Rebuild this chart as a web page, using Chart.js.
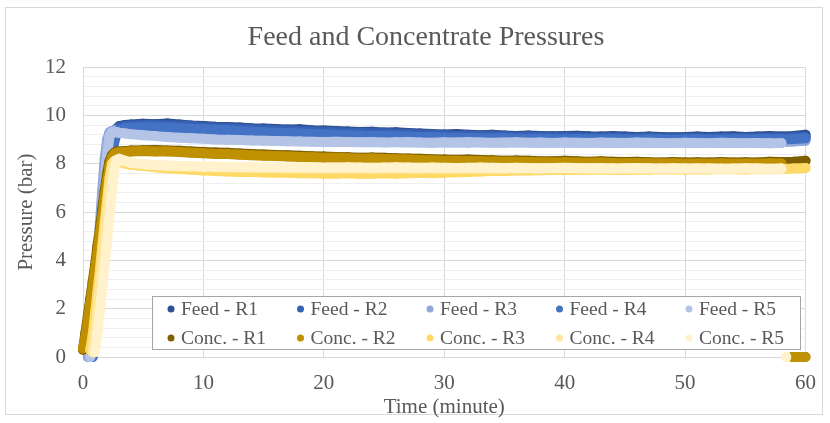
<!DOCTYPE html>
<html>
<head>
<meta charset="utf-8">
<title>Feed and Concentrate Pressures</title>
<script src="https://cdn.jsdelivr.net/npm/chart.js@4.4.1/dist/chart.umd.min.js"></script>
<style>
  html, body { margin: 0; padding: 0; background: #fff; }
  canvas { display: block; }
</style>
</head>
<body>
<canvas id="pressureChart" width="830" height="423"></canvas>
<script>
// sample times (minute): fine steps through the start-up ramp, then one per minute
const minutes = [0, 0.2, 0.4, 0.6, 0.8, 1, 1.2, 1.4, 1.6, 1.8, 2, 2.2, 2.4, 2.6, 2.8, 3, 3.5,
  4, 5, 6, 7, 8, 9, 10, 11, 12, 13, 14, 15, 16, 17, 18, 19, 20, 21, 22, 23, 24, 25, 26, 27, 28, 29, 30,
  31, 32, 33, 34, 35, 36, 37, 38, 39, 40, 41, 42, 43, 44, 45, 46, 47, 48, 49, 50, 51, 52, 53, 54, 55, 56, 57, 58, 59, 60];

// pressures (bar), one value per entry of `minutes`
const feedR1 = [null, null, null, 0, 0.5, 1.6, 2.8, 4.0, 5.2, 6.4, 7.5, 8.4, 9.0, 9.3, 9.45, 9.55, 9.6,
  9.62, 9.65, 9.63, 9.66, 9.62, 9.58, 9.56, 9.53, 9.52, 9.5, 9.47, 9.46, 9.43, 9.41, 9.42, 9.38, 9.37, 9.35, 9.33, 9.31, 9.32, 9.29, 9.3, 9.27, 9.25, 9.23, 9.21,
  9.23, 9.2, 9.18, 9.2, 9.17, 9.15, 9.17, 9.15, 9.13, 9.15, 9.16, 9.13, 9.12, 9.14, 9.12, 9.1, 9.12, 9.1, 9.09, 9.1, 9.12, 9.1, 9.12, 9.13, 9.1, 9.12, 9.14, 9.12, 9.15, 9.2];
const feedR2 = [null, null, null, 0, 0.3, 1.3, 2.5, 3.7, 4.9, 6.1, 7.2, 8.2, 8.9, 9.3, 9.45, 9.5, 9.55,
  9.58, 9.6, 9.6, 9.58, 9.57, 9.55, 9.5, 9.48, 9.47, 9.44, 9.42, 9.4, 9.38, 9.37, 9.35, 9.33, 9.32, 9.3, 9.28, 9.27, 9.25, 9.26, 9.24, 9.22, 9.2, 9.2, 9.18,
  9.15, 9.16, 9.14, 9.13, 9.12, 9.1, 9.11, 9.1, 9.08, 9.1, 9.08, 9.06, 9.07, 9.08, 9.06, 9.05, 9.07, 9.05, 9.04, 9.06, 9.05, 9.04, 9.06, 9.05, 9.06, 9.05, 9.07, 9.06, 9.08, 9.1];
const feedR3 = [null, null, 0, 0.3, 1.5, 2.8, 4.1, 5.5, 6.9, 8.2, 9.0, 9.3, 9.35, 9.38, 9.38, 9.36, 9.32,
  9.3, 9.25, 9.2, 9.17, 9.14, 9.1, 9.08, 9.05, 9.03, 9.02, 9.0, 8.98, 8.97, 8.96, 8.95, 8.94, 8.93, 8.92, 8.93, 8.91, 8.9, 8.92, 8.9, 8.89, 8.9, 8.88, 8.9,
  8.89, 8.88, 8.9, 8.89, 8.88, 8.9, 8.89, 8.88, 8.9, 8.89, 8.88, 8.9, 8.88, 8.87, 8.89, 8.88, 8.87, 8.89, 8.88, 8.87, 8.88, 8.89, 8.87, 8.88, 8.9, 8.88, 8.87, 8.9, 8.92, 8.95];
const feedR4 = [null, null, null, null, 0, 0.4, 1.5, 2.7, 3.9, 5.1, 6.3, 7.4, 8.3, 8.9, 9.25, 9.4, 9.48,
  9.5, 9.52, 9.5, 9.5, 9.47, 9.45, 9.42, 9.4, 9.38, 9.35, 9.33, 9.3, 9.28, 9.27, 9.25, 9.23, 9.22, 9.2, 9.18, 9.17, 9.15, 9.16, 9.14, 9.12, 9.1, 9.1, 9.08,
  9.07, 9.06, 9.05, 9.04, 9.05, 9.03, 9.02, 9.03, 9.02, 9.0, 9.02, 9.01, 9.0, 9.02, 9.0, 8.99, 9.01, 9.0, 8.99, 9.0, 9.01, 9.0, 8.99, 9.01, 9.0, 9.01, 9.02, 9.0, 9.02, 9.05];
const feedR5 = [null, null, null, 0, 0.8, 2.0, 3.3, 4.6, 5.9, 7.2, 8.4, 9.1, 9.3, 9.32, 9.3, 9.28, 9.25,
  9.22, 9.18, 9.14, 9.1, 9.07, 9.05, 9.03, 9.0, 8.99, 8.98, 8.96, 8.95, 8.94, 8.93, 8.92, 8.91, 8.9, 8.91, 8.9, 8.89, 8.9, 8.88, 8.89, 8.9, 8.88, 8.87, 8.89,
  8.88, 8.9, 8.88, 8.87, 8.88, 8.89, 8.87, 8.88, 8.86, 8.88, 8.87, 8.86, 8.88, 8.87, 8.86, 8.88, 8.87, 8.86, 8.85, 8.87, 8.86, 8.85, 8.87, 8.86, 8.85, 8.86, 8.84, 8.85, null, null];

const concR1 = [0.3, 1.0, 1.7, 2.4, 3.1, 3.8, 4.6, 5.3, 6.1, 6.9, 7.6, 8.1, 8.35, 8.45, 8.5, 8.5, 8.52,
  8.55, 8.56, 8.57, 8.55, 8.53, 8.5, 8.48, 8.46, 8.45, 8.42, 8.4, 8.38, 8.36, 8.35, 8.33, 8.31, 8.3, 8.28, 8.27, 8.25, 8.26, 8.24, 8.22, 8.21, 8.2, 8.18, 8.17,
  8.16, 8.17, 8.15, 8.14, 8.12, 8.13, 8.12, 8.1, 8.1, 8.12, 8.1, 8.08, 8.1, 8.08, 8.07, 8.08, 8.06, 8.05, 8.07, 8.05, 8.06, 8.05, 8.07, 8.05, 8.06, 8.05, 8.08, 8.07, 8.08, 8.12];
const concR2 = [0.35, 0.8, 1.5, 2.2, 2.9, 3.6, 4.3, 5.1, 5.8, 6.6, 7.3, 7.9, 8.25, 8.4, 8.45, 8.46, 8.48,
  8.5, 8.52, 8.5, 8.5, 8.48, 8.45, 8.43, 8.4, 8.4, 8.37, 8.35, 8.33, 8.32, 8.3, 8.28, 8.27, 8.25, 8.24, 8.22, 8.2, 8.21, 8.19, 8.18, 8.17, 8.15, 8.14, 8.12,
  8.12, 8.11, 8.1, 8.09, 8.08, 8.08, 8.07, 8.06, 8.05, 8.06, 8.05, 8.04, 8.05, 8.03, 8.02, 8.03, 8.02, 8.01, 8.02, 8.0, 8.01, 8.0, 8.02, 8.0, 8.01, 8.0, 8.02, 8.01, null, null];
const concR3 = [null, null, null, 0.3, 0.9, 1.8, 2.7, 3.6, 4.6, 5.6, 6.5, 7.4, 8.0, 8.1, 8.1, 8.05, 8.0,
  7.95, 7.9, 7.85, 7.8, 7.78, 7.75, 7.72, 7.7, 7.68, 7.66, 7.65, 7.63, 7.62, 7.62, 7.6, 7.6, 7.58, 7.58, 7.6, 7.57, 7.58, 7.6, 7.58, 7.6, 7.62, 7.6, 7.62,
  7.64, 7.65, 7.68, 7.7, 7.7, 7.72, 7.72, 7.73, 7.74, 7.75, 7.74, 7.75, 7.76, 7.75, 7.74, 7.76, 7.75, 7.77, 7.76, 7.75, 7.77, 7.76, 7.78, 7.77, 7.76, 7.78, 7.77, 7.78, 7.8, 7.82];
const concR4 = [null, null, null, null, 0.2, 1.0, 2.0, 3.0, 4.0, 5.0, 6.0, 7.0, 7.8, 8.1, 8.15, 8.12, 8.08,
  8.02, 7.97, 7.93, 7.9, 7.88, 7.87, 7.85, 7.85, 7.84, 7.83, 7.83, 7.82, 7.82, 7.81, 7.82, 7.8, 7.81, 7.8, 7.8, 7.81, 7.79, 7.8, 7.81, 7.79, 7.8, 7.8, 7.79,
  7.8, 7.81, 7.79, 7.8, 7.79, 7.8, 7.8, 7.79, 7.8, 7.8, 7.79, 7.8, 7.79, 7.8, 7.79, 7.8, 7.78, 7.79, 7.8, 7.79, 7.78, 7.8, 7.79, 7.78, 7.79, 7.8, 7.78, 7.79, null, null];
const concR5 = [null, null, null, null, null, 0.2, 1.0, 1.9, 2.8, 3.8, 4.8, 5.8, 6.8, 7.7, 8.15, 8.2, 8.12,
  8.04, 7.98, 7.94, 7.92, 7.9, 7.9, 7.88, 7.88, 7.87, 7.86, 7.86, 7.85, 7.85, 7.84, 7.85, 7.84, 7.83, 7.84, 7.85, 7.84, 7.83, 7.84, 7.85, 7.84, 7.83, 7.84, 7.83,
  7.82, 7.83, 7.84, 7.83, 7.82, 7.83, 7.82, 7.81, 7.82, 7.83, 7.82, 7.81, 7.82, 7.8, 7.81, 7.82, 7.81, 7.8, 7.81, 7.8, 7.81, 7.8, 7.79, 7.8, 7.81, 7.8, 7.79, 7.8, null, null];

// readings logged at zero once the runs were stopped
const concR2TailMinutes = [58.9, 59.3, 59.7, 60];
const concR2Tail = [0, 0, 0, 0];
const concR5TailMinutes = [58.4];
const concR5Tail = [0];

const seriesLabels = ['Feed - R1', 'Feed - R2', 'Feed - R3', 'Feed - R4', 'Feed - R5',
  'Conc. - R1', 'Conc. - R2', 'Conc. - R3', 'Conc. - R4', 'Conc. - R5'];
const seriesColors = ['#2f5192', '#3761b4', '#8fa8db', '#4472c4', '#b4c4e6',
  '#7f6000', '#bf9000', '#ffd966', '#ffe699', '#fff2cc'];

const yTicks = [0, 2, 4, 6, 8, 10, 12];
const chartTitle = 'Feed and Concentrate Pressures';

function toPoints(values, tailMinutes = [], tailValues = []) {
  const pts = minutes.map((m, i) => ({ x: m, y: values[i] }));
  if (tailMinutes.length) {
    pts.push({ x: tailMinutes[0] - 0.05, y: null });
    tailMinutes.forEach((m, i) => pts.push({ x: m, y: tailValues[i] }));
  }
  return pts;
}

const seriesPoints = [
  toPoints(feedR1), toPoints(feedR2), toPoints(feedR3), toPoints(feedR4), toPoints(feedR5),
  toPoints(concR1), toPoints(concR2, concR2TailMinutes, concR2Tail), toPoints(concR3),
  toPoints(concR4), toPoints(concR5, concR5TailMinutes, concR5Tail)
];

const FONT = 'Liberation Serif';
const TEXT = '#595959';

// white page, thin frame and the heading
const frame = {
  id: 'frame',
  beforeDraw(chart) {
    const ctx = chart.ctx;
    ctx.save();
    ctx.fillStyle = '#ffffff';
    ctx.fillRect(0, 0, chart.width, chart.height);
    ctx.strokeStyle = '#d9d9d9';
    ctx.lineWidth = 1;
    ctx.strokeRect(5.5, 7.5, 817, 407);
    ctx.fillStyle = TEXT;
    ctx.font = '28px "' + FONT + '"';
    ctx.textAlign = 'center';
    ctx.textBaseline = 'middle';
    ctx.fillText(chartTitle, 426, 38);
    ctx.restore();
  }
};

// two-row legend boxed inside the plot area
const boxedLegend = {
  id: 'boxedLegend',
  afterDraw(chart) {
    const ctx = chart.ctx;
    ctx.save();
    ctx.fillStyle = '#ffffff';
    ctx.fillRect(152, 296, 648, 53);
    ctx.strokeStyle = '#a6a6a6';
    ctx.lineWidth = 1;
    ctx.strokeRect(152.5, 296.5, 648, 53);
    ctx.font = '19.5px "' + FONT + '"';
    ctx.textBaseline = 'middle';
    ctx.textAlign = 'left';
    chart.data.datasets.forEach((ds, i) => {
      const mx = 171 + (i % 5) * 129.5;
      const my = i < 5 ? 309 : 338;
      ctx.fillStyle = ds.borderColor;
      ctx.beginPath();
      ctx.arc(mx, my, 3.5, 0, Math.PI * 2);
      ctx.fill();
      ctx.fillStyle = TEXT;
      ctx.fillText(ds.label, mx + 10, my + 1);
    });
    ctx.restore();
  }
};

const isMajor = v => yTicks.some(t => Math.abs(t - v) < 1e-6);

new Chart(document.getElementById('pressureChart'), {
  type: 'scatter',
  data: {
    datasets: seriesLabels.map((label, i) => ({
      label: label,
      data: seriesPoints[i],
      order: seriesLabels.length - 1 - i,
      showLine: true,
      spanGaps: false,
      borderColor: seriesColors[i],
      backgroundColor: seriesColors[i],
      borderWidth: 10,
      borderCapStyle: 'round',
      borderJoinStyle: 'round',
      pointRadius: 5,
      pointBorderWidth: 0,
      pointBackgroundColor: seriesColors[i],
      clip: false
    }))
  },
  options: {
    responsive: false,
    animation: false,
    devicePixelRatio: 1,
    layout: { padding: { left: 0, right: 22, top: 67, bottom: 0 } },
    plugins: {
      legend: { display: false },
      tooltip: { enabled: false },
      title: { display: false }
    },
    scales: {
      x: {
        type: 'linear',
        min: 0,
        max: 60,
        ticks: { stepSize: 10, padding: 14, color: TEXT, font: { family: FONT, size: 21 } },
        grid: { color: '#d9d9d9', drawTicks: false },
        border: { color: '#d9d9d9' },
        title: {
          display: true,
          text: 'Time (minute)',
          color: TEXT,
          font: { family: FONT, size: 21 },
          padding: { top: 0, bottom: 3 }
        },
        afterFit(scale) { scale.height = 66; }
      },
      y: {
        min: 0,
        max: 12,
        ticks: {
          stepSize: 0.4,
          autoSkip: false,
          padding: 17,
          color: TEXT,
          font: { family: FONT, size: 21 },
          callback: v => (isMajor(v) ? Math.round(v) : '')
        },
        grid: {
          drawTicks: false,
          color: c => (isMajor(c.tick.value) ? '#d9d9d9' : '#efefef')
        },
        border: { color: '#d9d9d9' },
        title: {
          display: true,
          text: 'Pressure (bar)',
          color: TEXT,
          font: { family: FONT, size: 21 },
          padding: { top: 14, bottom: 0 }
        },
        afterFit(scale) { scale.width = 83; }
      }
    }
  },
  plugins: [frame, boxedLegend]
});
</script>
</body>
</html>
